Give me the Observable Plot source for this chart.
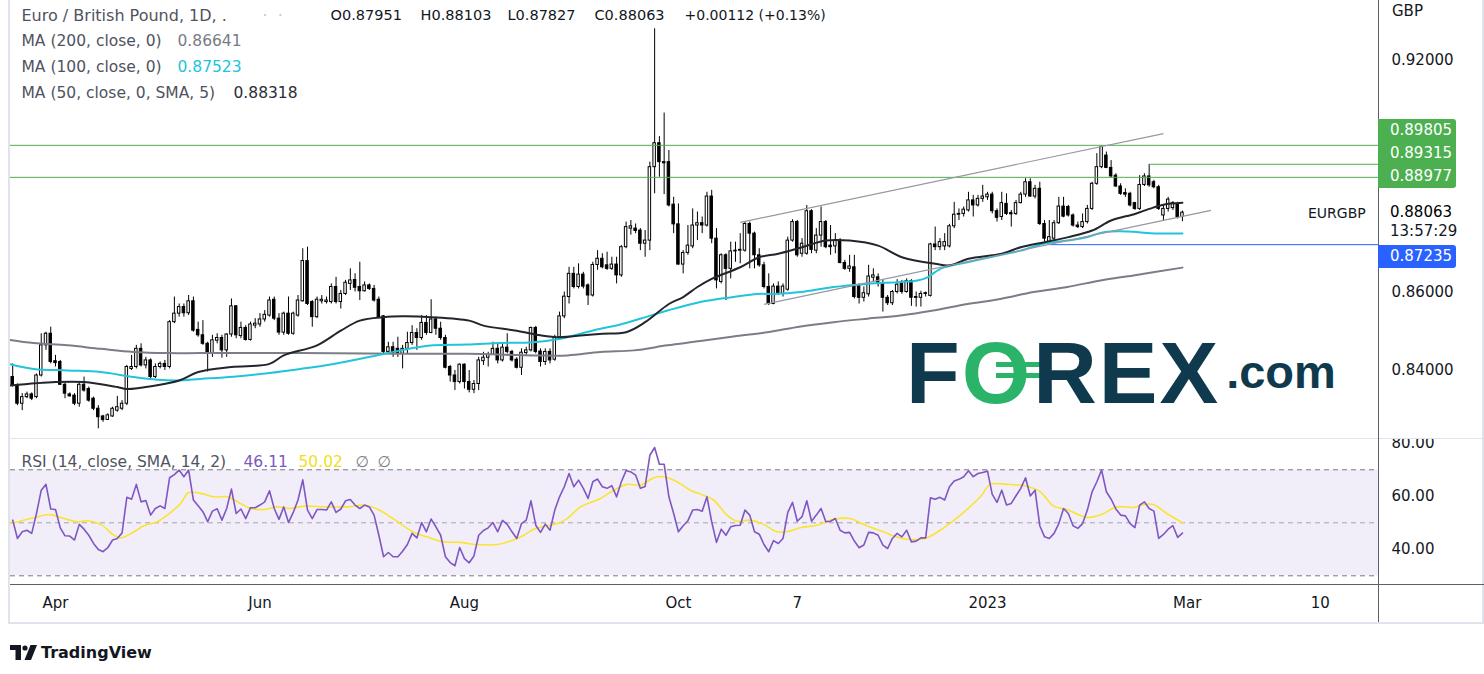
<!DOCTYPE html>
<html><head><meta charset="utf-8">
<script src="https://cdn.jsdelivr.net/npm/d3@7"></script>
<script src="https://cdn.jsdelivr.net/npm/@observablehq/plot@0.6"></script>
<style>
body{margin:0;background:#fff;font-family:"DejaVu Sans",sans-serif;}
#root{position:relative;width:1484px;height:674px;overflow:hidden;background:#fff;}
.abs{position:absolute;white-space:nowrap;line-height:1.3;}
.line{position:absolute;}
</style></head><body><div id="root"></div>
<script>
// ---------- DATA ----------
const firstBar = -9; // bar index of first candle (bar 0 = 1 Apr 2022)
const open = [
0.8381,0.8359,0.8312,0.8329,0.8336,0.8329,0.8385,0.8463,0.8493,0.8422,
0.8420,0.8361,0.8336,0.8333,0.8312,0.8361,0.8350,0.8325,0.8299,0.8279,
0.8270,0.8279,0.8294,0.8299,0.8312,0.8402,0.8407,0.8454,0.8411,0.8424,
0.8381,0.8407,0.8415,0.8407,0.8523,0.8545,0.8562,0.8546,0.8577,0.8503,
0.8489,0.8467,0.8441,0.8475,0.8482,0.8450,0.8491,0.8564,0.8487,0.8508,
0.8477,0.8514,0.8517,0.8530,0.8540,0.8581,0.8532,0.8496,0.8545,0.8493,
0.8540,0.8577,0.8681,0.8575,0.8536,0.8577,0.8575,0.8575,0.8614,0.8575,
0.8596,0.8622,0.8632,0.8614,0.8603,0.8618,0.8609,0.8581,0.8538,0.8446,
0.8458,0.8454,0.8441,0.8454,0.8469,0.8495,0.8482,0.8521,0.8495,0.8530,
0.8506,0.8482,0.8407,0.8385,0.8368,0.8413,0.8368,0.8348,0.8363,0.8422,
0.8431,0.8438,0.8454,0.8424,0.8457,0.8446,0.8426,0.8405,0.8443,0.8450,
0.8508,0.8447,0.8420,0.8446,0.8426,0.8484,0.8538,0.8588,0.8648,0.8614,
0.8646,0.8618,0.8592,0.8671,0.8687,0.8670,0.8661,0.8672,0.8644,0.8717,
0.8765,0.8765,0.8760,0.8726,0.8734,0.8924,0.8986,0.8937,0.8937,0.8827,
0.8776,0.8672,0.8702,0.8719,0.8773,0.8779,0.8773,0.8848,0.8739,0.8627,
0.8696,0.8661,0.8706,0.8708,0.8708,0.8777,0.8752,0.8696,0.8670,0.8614,
0.8570,0.8615,0.8596,0.8607,0.8734,0.8782,0.8700,0.8700,0.8810,0.8708,
0.8747,0.8782,0.8721,0.8719,0.8734,0.8676,0.8661,0.8665,0.8618,0.8586,
0.8595,0.8638,0.8639,0.8624,0.8586,0.8572,0.8601,0.8622,0.8601,0.8629,
0.8588,0.8586,0.8596,0.8591,0.8724,0.8717,0.8719,0.8719,0.8771,0.8801,
0.8803,0.8812,0.8838,0.8825,0.8842,0.8846,0.8853,0.8810,0.8795,0.8829,
0.8805,0.8803,0.8831,0.8853,0.8885,0.8848,0.8868,0.8777,0.8730,0.8739,
0.8779,0.8822,0.8821,0.8799,0.8773,0.8769,0.8782,0.8816,0.8881,0.8924,
0.8954,0.8922,0.8902,0.8874,0.8857,0.8855,0.8831,0.8816,0.8878,0.8900,
0.8885,0.8872,0.8799,0.8816,0.8818,0.8829,0.87951];
const high = [
0.8415,0.8363,0.8338,0.8342,0.8340,0.8389,0.8493,0.8497,0.8510,0.8437,
0.8424,0.8365,0.8340,0.8338,0.8365,0.8381,0.8355,0.8329,0.8307,0.8282,
0.8286,0.8303,0.8331,0.8320,0.8411,0.8437,0.8463,0.8467,0.8432,0.8428,
0.8415,0.8420,0.8424,0.8527,0.8588,0.8570,0.8570,0.8592,0.8588,0.8523,
0.8527,0.8471,0.8489,0.8493,0.8489,0.8493,0.8583,0.8566,0.8523,0.8514,
0.8523,0.8532,0.8545,0.8553,0.8588,0.8588,0.8545,0.8549,0.8588,0.8549,
0.8592,0.8713,0.8717,0.8579,0.8588,0.8592,0.8588,0.8622,0.8639,0.8605,
0.8631,0.8661,0.8648,0.8678,0.8627,0.8622,0.8618,0.8588,0.8540,0.8471,
0.8471,0.8484,0.8463,0.8497,0.8514,0.8506,0.8540,0.8540,0.8581,0.8536,
0.8523,0.8489,0.8411,0.8398,0.8415,0.8415,0.8398,0.8372,0.8432,0.8445,
0.8445,0.8471,0.8467,0.8467,0.8493,0.8450,0.8431,0.8454,0.8458,0.8510,
0.8512,0.8454,0.8454,0.8454,0.8489,0.8549,0.8601,0.8665,0.8665,0.8674,
0.8652,0.8622,0.8678,0.8708,0.8700,0.8704,0.8691,0.8691,0.8721,0.8782,
0.8786,0.8777,0.8765,0.8760,0.8937,0.9282,0.9003,0.9064,0.8967,0.8846,
0.8829,0.8708,0.8773,0.8816,0.8808,0.8795,0.8859,0.8864,0.8765,0.8700,
0.8700,0.8730,0.8730,0.8752,0.8782,0.8782,0.8756,0.8713,0.8678,0.8648,
0.8622,0.8627,0.8622,0.8743,0.8788,0.8786,0.8739,0.8825,0.8814,0.8765,
0.8821,0.8786,0.8773,0.8752,0.8739,0.8683,0.8696,0.8696,0.8622,0.8614,
0.8670,0.8661,0.8648,0.8631,0.8592,0.8605,0.8633,0.8631,0.8635,0.8633,
0.8601,0.8603,0.8601,0.8727,0.8769,0.8739,0.8752,0.8776,0.8833,0.8816,
0.8821,0.8859,0.8851,0.8851,0.8877,0.8859,0.8859,0.8816,0.8859,0.8855,
0.8812,0.8838,0.8859,0.8894,0.8894,0.8877,0.8885,0.8786,0.8786,0.8786,
0.8846,0.8846,0.8825,0.8803,0.8782,0.8803,0.8825,0.8885,0.8959,0.8980,
0.8963,0.8941,0.8907,0.8881,0.8868,0.8859,0.8833,0.8902,0.8907,0.8931,
0.8890,0.8877,0.8825,0.8846,0.8835,0.8833,0.88103];
const low = [
0.8355,0.8307,0.8294,0.8325,0.8320,0.8325,0.8381,0.8450,0.8415,0.8407,
0.8359,0.8325,0.8329,0.8307,0.8303,0.8342,0.8316,0.8294,0.8247,0.8264,
0.8269,0.8277,0.8290,0.8294,0.8307,0.8398,0.8402,0.8407,0.8402,0.8377,
0.8377,0.8402,0.8398,0.8402,0.8519,0.8536,0.8536,0.8540,0.8497,0.8484,
0.8463,0.8394,0.8432,0.8467,0.8430,0.8432,0.8484,0.8480,0.8480,0.8474,
0.8474,0.8506,0.8510,0.8523,0.8536,0.8527,0.8489,0.8489,0.8489,0.8489,
0.8536,0.8575,0.8566,0.8510,0.8532,0.8570,0.8570,0.8570,0.8570,0.8557,
0.8592,0.8605,0.8601,0.8579,0.8601,0.8605,0.8575,0.8532,0.8441,0.8441,
0.8432,0.8432,0.8402,0.8441,0.8463,0.8450,0.8476,0.8489,0.8493,0.8489,
0.8476,0.8402,0.8368,0.8346,0.8363,0.8350,0.8340,0.8338,0.8346,0.8411,
0.8407,0.8437,0.8415,0.8420,0.8441,0.8420,0.8402,0.8385,0.8437,0.8446,
0.8441,0.8407,0.8411,0.8415,0.8422,0.8480,0.8532,0.8570,0.8609,0.8609,
0.8609,0.8566,0.8588,0.8657,0.8661,0.8657,0.8657,0.8622,0.8639,0.8713,
0.8748,0.8752,0.8708,0.8691,0.8708,0.8855,0.8898,0.8853,0.8821,0.8752,
0.8670,0.8648,0.8696,0.8713,0.8734,0.8752,0.8769,0.8726,0.8609,0.8622,
0.8579,0.8635,0.8678,0.8674,0.8704,0.8661,0.8661,0.8665,0.8609,0.8566,
0.8568,0.8592,0.8588,0.8603,0.8730,0.8691,0.8691,0.8696,0.8700,0.8700,
0.8717,0.8713,0.8696,0.8700,0.8674,0.8657,0.8652,0.8583,0.8570,0.8575,
0.8588,0.8627,0.8614,0.8549,0.8566,0.8566,0.8596,0.8595,0.8598,0.8564,
0.8562,0.8562,0.8588,0.8588,0.8708,0.8708,0.8708,0.8715,0.8765,0.8786,
0.8795,0.8808,0.8795,0.8821,0.8833,0.8838,0.8803,0.8782,0.8786,0.8799,
0.8769,0.8799,0.8829,0.8846,0.8846,0.8842,0.8773,0.8730,0.8726,0.8734,
0.8776,0.8793,0.8795,0.8769,0.8765,0.8765,0.8777,0.8812,0.8877,0.8920,
0.8920,0.8896,0.8871,0.8851,0.8846,0.8821,0.8812,0.8812,0.8874,0.8872,
0.8868,0.8812,0.8786,0.8808,0.8812,0.8790,0.87827];
const close = [
0.8359,0.8312,0.8329,0.8336,0.8325,0.8385,0.8463,0.8493,0.8420,0.8417,
0.8361,0.8338,0.8331,0.8312,0.8361,0.8346,0.8320,0.8299,0.8277,0.8270,
0.8282,0.8299,0.8303,0.8312,0.8407,0.8407,0.8454,0.8411,0.8424,0.8381,
0.8407,0.8415,0.8407,0.8523,0.8545,0.8562,0.8546,0.8577,0.8501,0.8489,
0.8467,0.8441,0.8476,0.8482,0.8450,0.8491,0.8564,0.8489,0.8508,0.8477,
0.8517,0.8519,0.8530,0.8542,0.8579,0.8532,0.8496,0.8545,0.8493,0.8545,
0.8579,0.8681,0.8570,0.8536,0.8581,0.8581,0.8579,0.8614,0.8575,0.8596,
0.8625,0.8631,0.8612,0.8603,0.8618,0.8609,0.8579,0.8536,0.8446,0.8458,
0.8441,0.8441,0.8454,0.8469,0.8495,0.8482,0.8521,0.8495,0.8530,0.8506,
0.8482,0.8405,0.8385,0.8368,0.8413,0.8368,0.8348,0.8363,0.8424,0.8431,
0.8438,0.8454,0.8424,0.8457,0.8446,0.8424,0.8405,0.8444,0.8450,0.8508,
0.8446,0.8420,0.8446,0.8424,0.8484,0.8538,0.8589,0.8648,0.8614,0.8646,
0.8615,0.8592,0.8671,0.8687,0.8665,0.8661,0.8672,0.8644,0.8717,0.8769,
0.8771,0.8759,0.8726,0.8734,0.8924,0.8986,0.8937,0.8934,0.8825,0.8776,
0.8672,0.8702,0.8721,0.8773,0.8779,0.8773,0.8848,0.8739,0.8631,0.8696,
0.8661,0.8706,0.8708,0.8710,0.8777,0.8752,0.8696,0.8670,0.8614,0.8570,
0.8615,0.8596,0.8615,0.8734,0.8782,0.8696,0.8726,0.8810,0.8710,0.8747,
0.8782,0.8717,0.8717,0.8734,0.8676,0.8661,0.8667,0.8588,0.8586,0.8598,
0.8641,0.8644,0.8622,0.8586,0.8572,0.8601,0.8620,0.8601,0.8629,0.8586,
0.8586,0.8596,0.8598,0.8724,0.8717,0.8730,0.8730,0.8771,0.8801,0.8803,
0.8814,0.8838,0.8825,0.8842,0.8848,0.8853,0.8810,0.8793,0.8831,0.8803,
0.8802,0.8831,0.8853,0.8885,0.8848,0.8868,0.8777,0.8739,0.8743,0.8779,
0.8822,0.8796,0.8799,0.8773,0.8769,0.8782,0.8816,0.8881,0.8924,0.8976,
0.8922,0.8900,0.8874,0.8855,0.8853,0.8825,0.8816,0.8878,0.8900,0.8877,
0.8872,0.8816,0.8816,0.8840,0.8831,0.87951,0.88063];

// moving averages, read as [bar index, value] points along each line
const ma200 = [[-9.5,0.8477],[-4.6,0.8469],[2.5,0.8463],[9.5,0.8454],[16.4,0.8446],[23.6,0.8443],[30.5,0.8443],[51.5,0.8443],[72.6,0.8441],[86.6,0.8441],[100.5,0.8437],[107.7,0.8437],[114.6,0.8446],[121.6,0.8450],[128.7,0.8463],[135.6,0.8474],[142.6,0.8486],[149.7,0.8497],[156.7,0.8512],[163.6,0.8523],[170.8,0.8532],[177.7,0.8540],[184.6,0.8553],[191.8,0.8570],[198.7,0.8583],[205.7,0.8601],[212.8,0.8614],[219.8,0.8631],[226.7,0.8644],[237,0.86641]];
const ma100 = [[-9.5,0.8414],[-4.6,0.8402],[2.5,0.8398],[9.5,0.8394],[16.4,0.8381],[21.5,0.8374],[25.7,0.8372],[30.5,0.8376],[37.4,0.8382],[44.6,0.8391],[51.5,0.8402],[58.5,0.8415],[65.6,0.8432],[72.6,0.8450],[79.5,0.8463],[86.6,0.8465],[93.6,0.8469],[100.5,0.8471],[106.2,0.8480],[110.4,0.8493],[114.6,0.8506],[118.8,0.8517],[125.1,0.8540],[128.7,0.8553],[135.6,0.8575],[142.6,0.8588],[147.6,0.8596],[151,0.8596],[156.7,0.8601],[163.6,0.8614],[170.8,0.8622],[177.7,0.8627],[181.3,0.8631],[183.4,0.8639],[186.1,0.8661],[191.8,0.8678],[198.7,0.8697],[203,0.8708],[207.8,0.8726],[212.8,0.8734],[217,0.8743],[219.8,0.8754],[223.3,0.8758],[226.7,0.8757],[230.3,0.8753],[237,0.87523]];
const ma50 = [[-9.5,0.8359],[0,0.8368],[6,0.8368],[13,0.8355],[15,0.8350],[21,0.8359],[26,0.8372],[30,0.8394],[37,0.8407],[45,0.8415],[48,0.8437],[55,0.8463],[60,0.8501],[64,0.8527],[69,0.8536],[73,0.8538],[79,0.8536],[87,0.8527],[90,0.8514],[97,0.8501],[102,0.8489],[106,0.8484],[111,0.8489],[115,0.8493],[120,0.8497],[124,0.8523],[129,0.8570],[132,0.8588],[135,0.8614],[138,0.8635],[144,0.8665],[148,0.8691],[152,0.8700],[157,0.8717],[162,0.8734],[167,0.8734],[173,0.8721],[178,0.8691],[185,0.8674],[188,0.8670],[192,0.8687],[199,0.8700],[203,0.8717],[208,0.8730],[213,0.8743],[218,0.8760],[222,0.8786],[227,0.8803],[230,0.8816],[233,0.8827],[237,0.88318]];

// drawn levels and channel lines
const fullLevels = [0.89805, 0.88977];
const partLevels = [{v: 0.89315, from: 230, kind: "green"}, {v: 0.87235, from: 209, kind: "blue"}];
const channel = [{x1: 144, y1: 0.8781, x2: 233, y1b: 0.9011}, {x1: 149, y1: 0.8569, x2: 243, y1b: 0.8812}];

// RSI (14) per bar, and its 14-bar SMA read as points
const rsi = [
51.0,44.1,46.6,47.2,46.0,53.5,62.3,64.5,55.2,55.0,
48.1,45.1,45.0,43.5,49.4,47.6,45.3,42.2,39.9,39.1,
40.6,43.5,44.1,46.2,59.6,58.9,64.5,57.9,58.4,52.9,
55.4,56.4,55.4,67.0,68.2,69.9,67.4,69.9,58.6,56.4,
54.2,50.4,54.4,55.3,51.0,55.4,62.7,53.5,55.2,51.6,
55.7,55.7,56.7,57.9,62.1,55.4,51.3,56.0,50.1,53.9,
58.6,66.2,54.8,51.6,55.0,55.0,54.8,57.9,53.9,55.2,
58.3,58.8,56.7,55.4,56.7,56.0,52.9,45.3,37.2,38.8,
37.2,37.2,39.3,41.8,46.0,44.3,50.1,46.6,51.4,48.5,
45.3,37.2,35.0,33.8,40.7,36.5,34.9,37.5,45.3,47.1,
48.1,50.1,46.6,50.9,49.4,46.6,44.1,49.7,51.0,58.3,
49.1,46.4,49.5,47.2,54.8,59.8,63.6,68.6,63.6,66.1,
63.0,59.2,65.5,66.5,63.6,63.0,64.0,59.8,65.5,69.7,
69.2,68.0,63.0,63.7,75.5,78.4,72.1,72.1,59.8,53.5,
46.6,48.9,50.8,54.8,55.0,54.4,59.8,50.4,42.6,47.6,
45.3,48.5,49.0,49.1,54.8,52.9,46.6,45.7,41.8,39.1,
43.3,42.2,44.1,53.9,57.7,50.6,52.3,58.3,50.6,52.9,
55.4,50.4,50.6,51.6,47.2,46.2,46.4,43.1,40.6,41.6,
46.4,46.2,45.3,41.6,40.3,44.1,46.0,44.7,47.2,42.8,
43.1,44.3,44.3,59.4,58.9,59.6,58.6,63.6,65.8,66.4,
67.4,69.6,67.4,68.6,69.0,69.5,60.7,57.7,62.3,56.7,
57.3,60.2,63.0,67.0,60.1,62.3,48.9,44.7,44.1,46.0,
49.7,55.4,53.5,48.9,47.9,49.7,54.8,61.7,65.5,69.9,
61.7,58.9,55.2,52.9,52.6,49.7,48.2,56.7,57.9,55.4,
54.4,44.1,45.6,47.6,48.9,44.5,46.11];
const rsiSma = [[-9.6,49.7],[-7.4,50.6],[-4.6,51.9],[-1.1,53.1],[1.8,51.6],[4.6,50.4],[6.7,50.8],[9.5,49.4],[12.3,45.3],[13.8,44.3],[16.5,46.6],[18.6,48.9],[21.4,50.4],[23.5,52.9],[26.3,57.3],[28,61.4],[30.5,61.1],[33.3,59.8],[36.1,59.8],[38.9,57.3],[41,55.4],[43.8,55.0],[46.6,56.0],[49.4,55.4],[52.2,56.3],[57.1,56.0],[61.3,56.0],[64.8,56.7],[67.6,55.2],[70.4,52.3],[72.5,49.7],[75.3,46.4],[78.1,44.7],[81.6,42.8],[85.1,42.6],[88.6,41.8],[92.9,41.8],[95.7,43.1],[98.5,45.3],[100.6,47.6],[103.4,48.9],[105.5,49.7],[107.6,51.6],[110.4,56.0],[114.6,59.2],[117.4,62.3],[120.2,64.5],[123,64.2],[125.8,67.0],[127.9,67.4],[130.7,65.5],[133.5,62.3],[136.3,60.4],[138.4,58.6],[141.2,52.9],[143.3,50.6],[146.1,51.0],[148.9,49.4],[151.7,46.6],[153.8,46.6],[156.6,48.1],[160.1,49.1],[163.6,51.3],[167.1,51.6],[170,49.4],[174.1,46.6],[177.6,44.3],[180.5,43.7],[183.2,44.3],[186.8,48.1],[190.3,52.9],[194.5,59.8],[196.6,64.5],[200.1,64.5],[204.3,63.8],[207.1,61.7],[209.9,56.3],[212.7,55.0],[217,52.0],[219.7,52.9],[223.2,56.0],[226.7,55.8],[228.8,56.9],[230.9,56.9],[233.7,53.5],[237,50.02]];
const rsiLevels = {upper: 70, middle: 50, lower: 30};

// axis ticks
const priceTicks = [0.84, 0.86, 0.92];
const rsiTicks = [40, 60, 80];
const timeTickIdx = [0, 43, 86, 131, 156, 196, 238, 266];
const timeTickLabels = ["Apr", "Jun", "Aug", "Oct", "7", "2023", "Mar", "10"];

// ---------- CHART ----------
const xDomain = [-9.464, 278.23];
const yDomain = [0.8222, 0.93552];
const rsiDomain = [26.72, 81.43];
const candles = close.map((c, k) => ({i: k + firstBar, o: open[k], h: high[k], l: low[k], c}));
const rsiData = rsi.map((v, k) => ({i: k + firstBar, v}));
const FONT = '"DejaVu Sans", sans-serif';
const TXT = "#131722";
const grey = "#50535e";
const half = 0.26;
const LEFT = 10; // plot frame left edge

// legend texts drawn as Plot text marks: [text, left px, centre y px (in that svg), colour, size]
function legend(items) {
  return items.map(([t, x, y, color, size]) => Plot.text([t], {
    frameAnchor: "top-left", dx: x - LEFT, dy: y, text: d => d,
    textAnchor: "start", lineAnchor: "middle", fill: color, fontSize: size, fontFamily: FONT
  }));
}
const priceLegend = legend([
  ["Euro / British Pound, 1D, .", 21, 15, grey, 16],
  ["·\u00a0\u00a0·", 262, 15, "#c3c6ce", 16],
  ["O0.87951", 330, 15, TXT, 14.5],
  ["H0.88103", 420, 15, TXT, 14.5],
  ["L0.87827", 507, 15, TXT, 14.5],
  ["C0.88063", 594, 15, TXT, 14.5],
  ["+0.00112 (+0.13%)", 684, 15, TXT, 14],
  ["MA (200, close, 0)", 21, 41, grey, 15.5],
  ["0.86641", 177, 41, "#787b86", 15.5],
  ["MA (100, close, 0)", 21, 67, grey, 15.5],
  ["0.87523", 177, 67, "#22c4dc", 15.5],
  ["MA (50, close, 0, SMA, 5)", 21, 93, grey, 15.5],
  ["0.88318", 233, 93, "#2a2e39", 15.5]
]);
const rsiLegend = legend([
  ["RSI (14, close, SMA, 14, 2)", 21, 23, grey, 15.5],
  ["46.11", 243, 23, "#7e57c2", 15.5],
  ["50.02", 298, 23, "#f5de1b", 15.5],
  ["∅", 355, 23, "#787b86", 15.5],
  ["∅", 377, 23, "#787b86", 15.5]
]);

const price = Plot.plot({
  width: 1484, height: 438,
  marginLeft: LEFT, marginRight: 106, marginTop: 0, marginBottom: 0,
  x: {domain: xDomain},
  y: {domain: yDomain},
  style: {fontFamily: FONT, fontSize: "15px", color: TXT, background: "transparent"},
  marks: [
    Plot.axisY({anchor: "right", ticks: priceTicks, tickFormat: d3.format(".5f"), tickSize: 0, tickPadding: 13, label: null}),
    Plot.ruleX(candles, {x: "i", y1: "l", y2: "h", stroke: "#000", strokeWidth: 1}),
    Plot.rect(candles, {filter: d => d.c >= d.o, x1: d => d.i - half, x2: d => d.i + half, y1: "o", y2: "c", fill: "#fff", stroke: "#000", strokeWidth: 1}),
    Plot.rect(candles, {filter: d => d.c < d.o, x1: d => d.i - half, x2: d => d.i + half, y1: "o", y2: "c", fill: "#000", stroke: "#000", strokeWidth: 1}),
    Plot.line(ma200, {x: d => d[0], y: d => d[1], stroke: "#7b7e87", strokeWidth: 2, curve: "catmull-rom", clip: true}),
    Plot.line(ma100, {x: d => d[0], y: d => d[1], stroke: "#22c4dc", strokeWidth: 2, curve: "catmull-rom", clip: true}),
    Plot.line(ma50, {x: d => d[0], y: d => d[1], stroke: "#23252d", strokeWidth: 2, curve: "catmull-rom", clip: true}),
    Plot.ruleY(fullLevels, {stroke: "#4caf50", strokeWidth: 1}),
    Plot.link(partLevels.filter(d => d.kind === "green"), {x1: "from", x2: () => xDomain[1], y1: "v", y2: "v", stroke: "#4caf50", strokeWidth: 1}),
    Plot.link(partLevels.filter(d => d.kind === "blue"), {x1: "from", x2: () => xDomain[1], y1: "v", y2: "v", stroke: "#2962ff", strokeWidth: 1}),
    Plot.link(channel, {x1: "x1", y1: "y1", x2: "x2", y2: "y1b", stroke: "#9598a1", strokeWidth: 1.2}),
    ...priceLegend
  ]
});

const rsiPlot = Plot.plot({
  width: 1484, height: 183,
  marginLeft: LEFT, marginRight: 106, marginTop: 0, marginBottom: 38,
  x: {domain: xDomain},
  y: {domain: rsiDomain},
  style: {fontFamily: FONT, fontSize: "15px", color: TXT, background: "transparent", overflow: "hidden"},
  marks: [
    Plot.rect([rsiLevels], {x1: () => xDomain[0], x2: () => xDomain[1], y1: "lower", y2: "upper", fill: "#7e57c2", fillOpacity: 0.1}),
    Plot.ruleY([rsiLevels.upper, rsiLevels.lower], {stroke: "#787b86", strokeDasharray: "5,4", strokeWidth: 1}),
    Plot.ruleY([rsiLevels.middle], {stroke: "#a3a6af", strokeDasharray: "5,4", strokeWidth: 1}),
    Plot.line(rsiSma, {x: d => d[0], y: d => d[1], stroke: "#fae431", strokeWidth: 1.6, curve: "catmull-rom", clip: true}),
    Plot.line(rsiData, {x: "i", y: "v", stroke: "#7e57c2", strokeWidth: 1.6, clip: true}),
    Plot.axisY({anchor: "right", ticks: rsiTicks, tickFormat: d3.format(".2f"), tickSize: 0, tickPadding: 13, label: null}),
    Plot.axisX({anchor: "bottom", ticks: timeTickIdx, tickFormat: d => timeTickLabels[timeTickIdx.indexOf(d)], tickSize: 0, tickPadding: 13, label: null}),
    ...rsiLegend
  ]
});

const root = document.getElementById("root");
function place(el, left, top) { Object.assign(el.style, {position: "absolute", left: left + "px", top: top + "px"}); root.appendChild(el); }

function box(left, top, w, h, bg, extra = {}) {
  const d = document.createElement("div");
  d.className = "line";
  Object.assign(d.style, {left: left + "px", top: top + "px", width: w + "px", height: h + "px", background: bg}, extra);
  root.appendChild(d); return d;
}
function label(text, left, cy, color = TXT, size = 15, extra = {}) {
  const d = document.createElement("div");
  d.className = "abs"; d.textContent = text;
  Object.assign(d.style, {left: left + "px", top: (cy - size * 0.65) + "px", fontSize: size + "px", color}, extra);
  root.appendChild(d); return d;
}

// frame lines (beneath the plots)
box(8, 0, 2, 622, "#e0e3eb");
box(1482, 0, 2, 622, "#e0e3eb");
box(8, 622, 1476, 2, "#e0e3eb");
box(10, 438, 1474, 1, "#e0e3eb");
box(10, 584, 1474, 1, "#5d606b");
box(1378, 0, 1, 622, "#5d606b");

place(price, 0, 0);
place(rsiPlot, 0, 439);

// price scale labels
const ys = price.scale("y");
const yPrice = v => ys.apply(v);
const gBottom = yPrice(0.88977) + 11;
box(1378, gBottom - 69, 78, 69, "#4caf50", {borderRadius: "0 3px 3px 0"});
[0.89805, 0.89315, 0.88977].forEach((v, k) => label(d3.format(".5f")(v), 1390, gBottom - 57 + k * 23, "#fff"));
label("GBP", 1392, 12);
const last = close[close.length - 1];
label(d3.format(".5f")(last), 1390, yPrice(last) + 1, "#000");
label("13:57:29", 1390, yPrice(last) + 20);
const bTop = yPrice(0.87235) + 1;
box(1378, bTop, 78, 23, "#2962ff", {borderRadius: "0 3px 3px 0"});
label(d3.format(".5f")(0.87235), 1390, bTop + 12, "#fff");
label("EURGBP", 1308, yPrice(last) + 1, TXT, 14);

// FOREX.com watermark
const ns = "http://www.w3.org/2000/svg";
const logo = document.createElementNS(ns, "svg");
logo.setAttribute("width", 450); logo.setAttribute("height", 100);
logo.innerHTML = `
<rect x="96" y="37" width="44" height="5" fill="#2bb36a"/>
<rect x="96" y="48" width="44" height="5" fill="#2bb36a"/>
<text x="6" y="78" font-family="Liberation Sans, Arial, sans-serif" font-weight="bold" font-size="88" fill="#0f3a4d"><tspan>F</tspan><tspan dx="2" fill="#2bb36a">O</tspan><tspan dx="3" letter-spacing="2">REX</tspan><tspan dx="6" dy="-15" font-size="47">.com</tspan></text>`;
place(logo, 900, 325);

// TradingView logo
const tv = document.createElementNS(ns, "svg");
tv.setAttribute("width", 30); tv.setAttribute("height", 16);
tv.innerHTML = `<path d="M0 0H11V15H5.5V5H0Z" fill="#131722"/><circle cx="15" cy="3" r="2.6" fill="#131722"/><path d="M20.5 0H27L21 15H14.5Z" fill="#131722"/>`;
place(tv, 10, 645);
label("TradingView", 41, 653, TXT, 16, {fontWeight: "bold"});
</script></body></html>
